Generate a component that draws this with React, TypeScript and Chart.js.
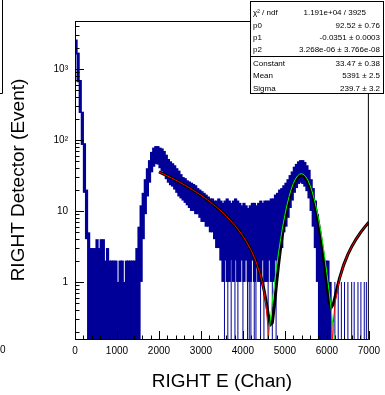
import React, { useEffect, useRef } from "react";
import { Chart, registerables } from "chart.js";

Chart.register(...registerables);

const FONT = "'Liberation Sans', Arial, Helvetica, sans-serif";
const HIST_COLOR = "#000099";

// Histogram, in 50-channel groups: band of bin contents (low .. high)
const binWidth = 50;
const histHigh = [
  2600, 1700, 700, 250, 90, 20, 5, 3, 3, 3,
  4, 3, 4, 4, 2, 3, 2, 2, 2, 2,
  1, 2, 2, 1, 2, 2, 2, 2, 2, 3,
  6, 12, 18, 28, 40, 52, 68, 78, 82, 82,
  78, 76, 70, 62, 54, 50, 47, 44, 40, 37,
  33, 30, 29, 27, 26, 25, 24, 23, 21, 20,
  19, 18, 17, 16, 15, 15, 14, 14, 15, 14,
  13, 14, 15, 14, 13, 14, 15, 14, 13, 12,
  13, 12, 11, 12, 13, 13, 12, 13, 14, 13,
  14, 14, 14, 15, 15, 17, 18, 20, 21, 23,
  25, 28, 32, 36, 42, 46, 50, 52, 52, 49,
  44, 38, 28, 21, 14, 9, 5, 3, 2, 2,
  2, 1,
];
const histLow = [
  1600, 650, 240, 85, 18, 4, 0, 0, 0, 0,
  0, 0, 0, 0, 0, 0, 0, 0, 0, 0,
  0, 0, 0, 0, 0, 0, 0, 0, 0, 0,
  0, 1, 4, 9, 16, 25, 35, 42, 46, 45,
  40, 36, 32, 28, 25, 23, 22, 20, 18, 16,
  15, 14, 13, 12, 11, 10, 10, 9, 9, 8,
  7, 7, 6, 6, 5, 5, 4, 3, 3, 2,
  1, 2, 1, 1, 2, 1, 2, 1, 1, 2,
  1, 2, 1, 1, 2, 1, 2, 1, 1, 2,
  1, 1, 2, 1, 1, 2, 2, 3, 3, 5,
  6, 8, 11, 14, 18, 21, 24, 25, 24, 22,
  19, 15, 10, 6, 3, 1, 0, 0, 0, 0,
  0, 0,
];

// Single-bin spikes (empty bins between filled ones, isolated counts)
const spikeChannels = [
  3560, 3640, 3720, 3810, 3880, 4000, 4110, 4150, 4190, 4270, 4310, 4420, 4500, 4600, 4700, 4790,
  6190, 6270, 6345, 6420, 6500, 6590, 6650, 6740, 6810, 6890, 6940,
];
const spikeTops = [
  2, 2, 2, 2, 2, 2, 2, 2, 2, 2, 2, 2, 2, 2, 2, 2,
  1, 1, 1, 1, 1, 1, 1, 1, 1, 1, 1,
];

// Fit curves
const pol2X = [2000, 2100, 2200, 2300, 2400, 2500, 2600, 2700, 2800, 2900, 3000, 3100, 3200, 3300, 3400, 3500, 3600, 3700, 3800, 3900, 4000, 4100, 4200, 4300, 4400, 4450, 4500, 4550, 4600, 4640, 5400, 6100, 6120, 6150, 6200, 6300, 6400, 6500, 6600, 6700, 6800, 6900, 7000];
const pol2Y = [35.39, 33.22, 31.12, 29.08, 27.10, 25.20, 23.35, 21.57, 19.86, 18.21, 16.63, 15.12, 13.66, 12.28, 10.96, 9.70, 8.51, 7.39, 6.33, 5.34, 4.41, 3.55, 2.75, 2.02, 1.35, 1.04, 0.747, 0.471, 0.211, 0.015, null, 0.012, 0.109, 0.259, 0.522, 1.097, 1.737, 2.443, 3.214, 4.051, 4.952, 5.919, 6.952];

const gausX = [4550, 4600, 4650, 4700, 4750, 4800, 4850, 4900, 4950, 5000, 5050, 5100, 5150, 5200, 5250, 5300, 5350, 5400, 5450, 5500, 5550, 5600, 5650, 5700, 5750, 5800, 5850, 5900, 5950, 6000, 6050, 6100, 6150, 6200];
const gausY = [0.071, 0.145, 0.282, 0.525, 0.937, 1.601, 2.622, 4.107, 6.161, 8.85, 12.17, 16.02, 20.19, 24.37, 28.15, 31.14, 32.98, 33.45, 32.47, 30.18, 26.86, 22.89, 18.67, 14.58, 10.91, 7.805, 5.351, 3.512, 2.207, 1.327, 0.765, 0.422, 0.222, 0.113];

const totalX = [2000, 2100, 2200, 2300, 2400, 2500, 2600, 2700, 2800, 2900, 3000, 3100, 3200, 3300, 3400, 3500, 3600, 3700, 3800, 3900, 4000, 4100, 4200, 4300, 4400, 4450, 4500, 4550, 4600, 4650, 4700, 4750, 4800, 4850, 4900, 4950, 5000, 5050, 5100, 5150, 5200, 5250, 5300, 5350, 5400, 5450, 5500, 5550, 5600, 5650, 5700, 5750, 5800, 5850, 5900, 5950, 6000, 6050, 6100, 6150, 6200, 6250, 6300, 6400, 6500, 6600, 6700, 6800, 6900, 7000];
const totalY = [35.39, 33.22, 31.12, 29.08, 27.10, 25.20, 23.35, 21.57, 19.86, 18.21, 16.63, 15.12, 13.66, 12.28, 10.96, 9.70, 8.51, 7.39, 6.33, 5.34, 4.41, 3.55, 2.75, 2.02, 1.35, 1.05, 0.78, 0.542, 0.356, 0.249, 0.265, 0.466, 0.936, 1.779, 3.102, 5.01, 7.57, 10.78, 14.53, 18.62, 22.74, 26.47, 29.43, 31.25, 31.73, 30.76, 28.51, 25.24, 21.33, 17.20, 13.21, 9.65, 6.68, 4.375, 2.70, 1.577, 0.895, 0.547, 0.434, 0.481, 0.635, 0.856, 1.122, 1.74, 2.443, 3.214, 4.051, 4.952, 5.919, 6.952];

const xTickValues = [0, 1000, 2000, 3000, 4000, 5000, 6000, 7000];
const xMinorStep = 200;
const yTickValues = [1, 10, 100, 1000];
const yTickLabels = ["1", "10", "10\u00B2", "10\u00B3"];
const yMin = 0.152;
const yMax = 4740;
// empty bins are drawn down to the frame bottom (below the log axis minimum)
const emptyBinFloor = 0.1;

const xTitle = "RIGHT E (Chan)";
const yTitle = "RIGHT Detector (Event)";

const statsLabels = ["\u03C7\u00B2 / ndf", "p0", "p1", "p2", "Constant", "Mean", "Sigma"];
const statsValues = ["1.191e+04 / 3925", "92.52 \u00B1 0.76", "-0.0351 \u00B1 0.0003", "3.268e-06 \u00B1 3.766e-08", "33.47 \u00B1 0.38", "5391 \u00B1 2.5", "239.7 \u00B1 3.2"];

const decorPlugin = {
  id: "rootDecor",
  afterDraw(chart: any) {
    const ctx = chart.ctx as CanvasRenderingContext2D;
    const xs = chart.scales.x;
    const ys = chart.scales.y;
    const { left, right, top, bottom } = chart.chartArea;
    ctx.save();
    ctx.strokeStyle = "#000";
    ctx.lineWidth = 1;
    // ticks pointing inward
    ctx.beginPath();
    for (let v = xTickValues[0]; v <= xTickValues[xTickValues.length - 1]; v += xMinorStep) {
      const px = Math.round(xs.getPixelForValue(v)) + 0.5;
      const len = xTickValues.includes(v) ? 9 : 4.5;
      ctx.moveTo(px, bottom);
      ctx.lineTo(px, bottom - len);
    }
    for (let d = 0.1; d <= 1000; d *= 10) {
      for (let k = 1; k <= 9; k++) {
        const v = k * d;
        if (v < ys.min || v > ys.max) continue;
        const py = Math.round(ys.getPixelForValue(v)) + 0.5;
        const len = k === 1 ? 9 : 4.5;
        ctx.moveTo(left, py);
        ctx.lineTo(left + len, py);
      }
    }
    ctx.stroke();
    // frame
    ctx.strokeRect(left + 0.5, top + 0.5, right - left - 1, bottom - top - 1);

    // axis titles
    ctx.fillStyle = "#000";
    ctx.font = `19px ${FONT}`;
    ctx.textAlign = "center";
    ctx.textBaseline = "middle";
    ctx.fillText(xTitle, (left + right) / 2, 382);
    ctx.save();
    ctx.translate(19, 180);
    ctx.rotate(-Math.PI / 2);
    ctx.fillText(yTitle, 0, 0);
    ctx.restore();

    // stats box
    const bx = 250.5, by = 1.5, bw = 133, bh = 92;
    ctx.fillStyle = "#fff";
    ctx.fillRect(bx, by, bw, bh);
    ctx.strokeRect(bx, by, bw, bh);
    ctx.beginPath();
    ctx.moveTo(bx, 56.5);
    ctx.lineTo(bx + bw, 56.5);
    ctx.stroke();
    const rowY = [13, 25.4, 37.8, 50.2, 63.5, 75.9, 88.3];
    ctx.fillStyle = "#000";
    ctx.font = `8px ${FONT}`;
    ctx.textBaseline = "middle";
    statsLabels.forEach((lab, i) => {
      ctx.textAlign = "left";
      ctx.fillText(lab, 253, rowY[i]);
      ctx.textAlign = "right";
      ctx.fillText(statsValues[i], i === 0 ? 366 : 380, rowY[i]);
    });

    // neighbouring pad remnants at left edge
    ctx.beginPath();
    ctx.moveTo(2.5, 0);
    ctx.lineTo(2.5, 93.5);
    ctx.lineTo(0, 93.5);
    ctx.stroke();
    ctx.font = `10px ${FONT}`;
    ctx.textAlign = "right";
    ctx.fillText("0", 5.5, 350);
    ctx.restore();
  },
};

export default function App() {
  const ref = useRef<HTMLCanvasElement | null>(null);
  useEffect(() => {
    document.body.style.margin = "0";
    const canvas = ref.current!;
    const floorOf = (v: number) => (v > 0 ? v : emptyBinFloor);
    const histData = histHigh.map((h, i) => ({ x: i * binWidth + binWidth / 2, y: [floorOf(histLow[i]), h] }));
    const spikeData = spikeChannels.map((c, i) => ({ x: c, y: [emptyBinFloor, spikeTops[i]] }));
    const pts = (xs: number[], ys: (number | null)[]) => xs.map((x, i) => ({ x, y: ys[i] }));
    const chart = new Chart(canvas, {
      type: "bar",
      data: {
        datasets: [
          { type: "bar", data: histData as any, backgroundColor: HIST_COLOR, borderWidth: 0, barThickness: 3.2, grouped: false, order: 10, clip: 0, inflateAmount: 0 } as any,
          { type: "bar", data: spikeData as any, backgroundColor: HIST_COLOR, borderWidth: 0, barThickness: 1, grouped: false, order: 9, clip: 0, inflateAmount: 0 } as any,
          { type: "line", data: pts(totalX, totalY) as any, borderColor: "#000", borderWidth: 3, pointRadius: 0, tension: 0, order: 3, clip: 0, spanGaps: false } as any,
          { type: "line", data: pts(gausX, gausY) as any, borderColor: "#00ff00", borderWidth: 1, pointRadius: 0, tension: 0, order: 2, clip: 0 } as any,
          { type: "line", data: pts(pol2X, pol2Y) as any, borderColor: "#ff0000", borderWidth: 1, pointRadius: 0, tension: 0, order: 1, clip: 0, spanGaps: false } as any,
        ],
      },
      options: {
        responsive: false,
        animation: false,
        devicePixelRatio: 1,
        events: [],
        layout: { padding: { left: 0, right: 12, top: 21, bottom: 0 } },
        plugins: { legend: { display: false }, tooltip: { enabled: false } },
        scales: {
          x: {
            type: "linear",
            min: 0,
            max: 7000,
            offset: false,
            grid: { display: false, drawTicks: false },
            border: { display: false },
            afterFit: (s: any) => { s.height = 55; },
            afterBuildTicks: (s: any) => { s.ticks = xTickValues.map((v) => ({ value: v })); },
            ticks: {
              autoSkip: false,
              maxRotation: 0,
              padding: 5,
              color: "#000",
              font: { family: FONT, size: 10 },
              callback: (v: any) => String(v),
            },
          },
          y: {
            type: "logarithmic",
            min: yMin,
            max: yMax,
            grid: { display: false, drawTicks: false },
            border: { display: false },
            afterFit: (s: any) => { s.width = 75; },
            afterBuildTicks: (s: any) => { s.ticks = yTickValues.map((v) => ({ value: v })); },
            ticks: {
              autoSkip: false,
              padding: 7,
              color: "#000",
              font: { family: FONT, size: 10 },
              callback: (v: any) => { const i = yTickValues.indexOf(Number(v)); return i >= 0 ? yTickLabels[i] : ""; },
            },
          },
        },
      } as any,
      plugins: [decorPlugin],
    });
    return () => chart.destroy();
  }, []);
  return (
    <div style={{ position: "absolute", left: 0, top: 0, width: 385, height: 395, background: "#fff" }}>
      <canvas ref={ref} width={385} height={395} style={{ display: "block", width: 385, height: 395 }} />
    </div>
  );
}
